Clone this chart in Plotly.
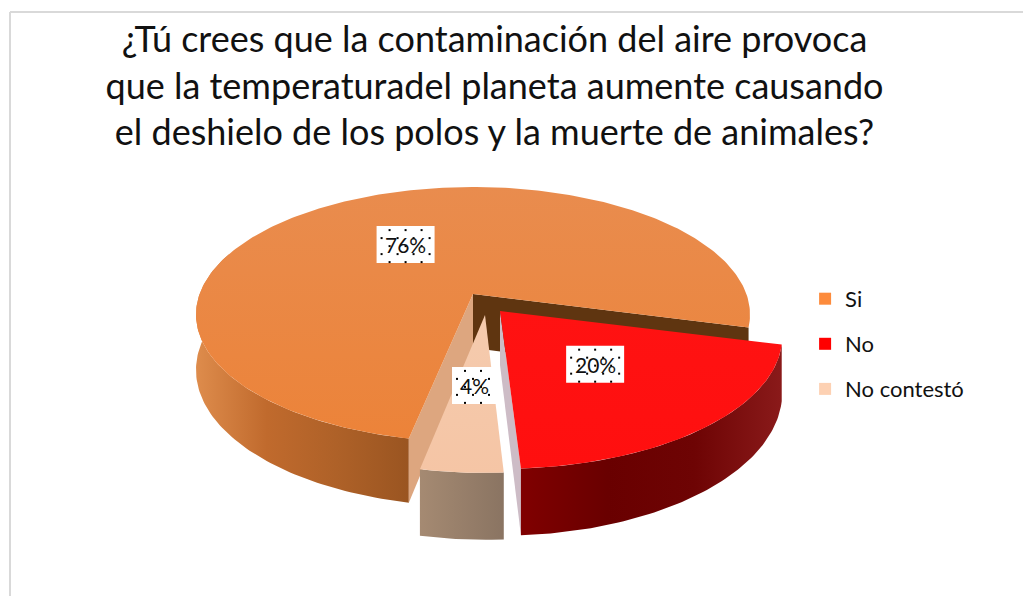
import math
import plotly.graph_objects as go

categories = ["Si", "No", "No contestó"]
values = [76, 20, 4]
title_lines = ["¿Tú crees que la contaminación del aire provoca",
               "que la temperaturadel planeta aumente causando",
               "el deshielo de los polos y la muerte de animales?"]
legend_colors = ["#FD8B3C", "#FF0000", "#FDD1B3"]
top_colors = [["#E98C4E", "#EC8339"], ["#FF1212", "#FF0F0F"], ["#F5CBAE", "#F5C5A5"]]
apex_px = [(473, 294), (500, 311), (485, 315)]
outer_stops = [
    ["#DE8C4C", "#C06A2D", "#AE6128", "#9A5521"],
    ["#800000", "#690000", "#6E0404", "#8A1A1A"],
    ["#A58A72", "#8A7462"],
]
# projection per slice: rotation, x radius, y radius, perspective
views = [(15, 273.4, 124.2, 0.161), (14.5, 277, 127.6, 0.192), (14.8, 272, 127.6, 0.192)]
DEPTH = 54


def project(theta, frac, i, depth=0):
    _, rx, ry, k = views[i]
    apex = apex_px[i]
    u = frac * math.cos(math.radians(theta))
    v = frac * math.sin(math.radians(theta))
    s = 1 / (1 - k * v)
    return apex[0] + rx * u * s, apex[1] + (ry * v + depth) * s


def arc(a0, a1, i, depth=0):
    n = max(4, int(abs(a1 - a0)))
    return [project(a0 + (a1 - a0) * j / n, 1, i, depth) for j in range(n + 1)]


def poly(fig, pts, colors, direction="horizontal"):
    xs = [p[0] for p in pts] + [pts[0][0]]
    ys = [p[1] for p in pts] + [pts[0][1]]
    kw = {}
    if len(colors) == 1:
        kw["fillcolor"] = colors[0]
    else:
        scale = [[j / (len(colors) - 1), c] for j, c in enumerate(colors)]
        seq = xs if direction == "horizontal" else ys
        kw["fillgradient"] = dict(type=direction, colorscale=scale, start=min(seq), stop=max(seq))
    fig.add_trace(go.Scatter(x=xs, y=ys, mode="lines", fill="toself", line=dict(width=0),
                             hoverinfo="skip", showlegend=False, **kw))


def wall(fig, theta, i, color):
    ap = apex_px[i]
    poly(fig, [ap, project(theta, 1, i), project(theta, 1, i, DEPTH), (ap[0], ap[1] + DEPTH)], [color])


total = sum(values)
sweeps = [v / total * 360 for v in values]
n0 = views[1][0]
n1 = n0 + sweeps[1]
r0 = views[2][0] + sweeps[1]
r1 = r0 + sweeps[2]
o1 = views[0][0] + 360
o0 = o1 - sweeps[0]
spans = [(o0, o1), (n0, n1), (r0, r1)]

fig = go.Figure()

# Si slice
wall(fig, o1, 0, "#5F3510")
poly(fig, arc(o0, 200, 0) + arc(200, o0, 0, DEPTH), outer_stops[0])
wall(fig, o0, 0, "#DDA67F")
poly(fig, [apex_px[0]] + arc(o0, o1, 0), top_colors[0], "vertical")

# No contestó slice
poly(fig, arc(r0, r1, 2) + arc(r1, r0, 2, DEPTH), outer_stops[2])
poly(fig, [apex_px[2]] + arc(r0, r1, 2), top_colors[2], "vertical")

# No slice
wall(fig, n1, 1, "#CDBCC6")
poly(fig, arc(n0, n1, 1) + arc(n1, n0, 1, DEPTH), outer_stops[1])
poly(fig, [apex_px[1]] + arc(n0, n1, 1), top_colors[1], "vertical")

# Legend entries
for name, col in zip(categories, legend_colors):
    fig.add_trace(go.Scatter(x=[None], y=[None], mode="markers", name=name, legendgroup=name,
                             marker=dict(symbol="square", size=13, color=col)))

# Data labels: white box with dotted pattern
box_w = [58, 58, 45]
box_h = 37
for i, (span, v) in enumerate(zip(spans, values)):
    mid = (span[0] + span[1]) / 2
    cx, cy = project(mid, 0.5, i)
    w = box_w[i]
    poly(fig, [(cx - w / 2, cy - box_h / 2), (cx + w / 2, cy - box_h / 2),
               (cx + w / 2, cy + box_h / 2), (cx - w / 2, cy + box_h / 2)], ["#FFFFFF"])
    dx, dy = [], []
    for r in range(5):
        yy = cy - box_h / 2 + 4 + r * 8
        xx = cx - w / 2 + (5 if r % 2 else 13)
        while xx < cx + w / 2 - 2:
            dx.append(xx)
            dy.append(yy)
            xx += 16
    fig.add_trace(go.Scatter(x=dx, y=dy, mode="markers", hoverinfo="skip", showlegend=False,
                             marker=dict(symbol="square", size=2, color="black", line_width=0)))
    fig.add_annotation(x=cx, y=cy, text=f"{v}%", showarrow=False,
                       font=dict(family="Lato", size=21, color="#111111"))

# Frame
fig.add_shape(type="line", x0=10, x1=1023, y0=12, y1=12, line=dict(color="#D9D9D9", width=2), layer="below")
fig.add_shape(type="line", x0=10, x1=10, y0=12, y1=596, line=dict(color="#D9D9D9", width=2), layer="below")

fig.update_layout(
    width=1023, height=596, margin=dict(l=0, r=0, t=0, b=0),
    paper_bgcolor="white", plot_bgcolor="white",
    title=dict(text="<br>".join(title_lines), x=494.5 / 1023, xanchor="center", y=0.913, yanchor="top",
               font=dict(family="Lato", size=36, color="#111111")),
    xaxis=dict(range=[0, 1023], visible=False, fixedrange=True),
    yaxis=dict(range=[596, 0], visible=False, fixedrange=True),
    legend=dict(x=0.787, y=0.423, xanchor="left", yanchor="middle", tracegroupgap=13.5,
                font=dict(family="Lato", size=22, color="#111111"), itemsizing="constant",
                bgcolor="rgba(0,0,0,0)"),
)
fig.write_html("out.html", config={"displayModeBar": False},
               post_script="document.body.style.margin='0';document.body.style.overflow='hidden';")
